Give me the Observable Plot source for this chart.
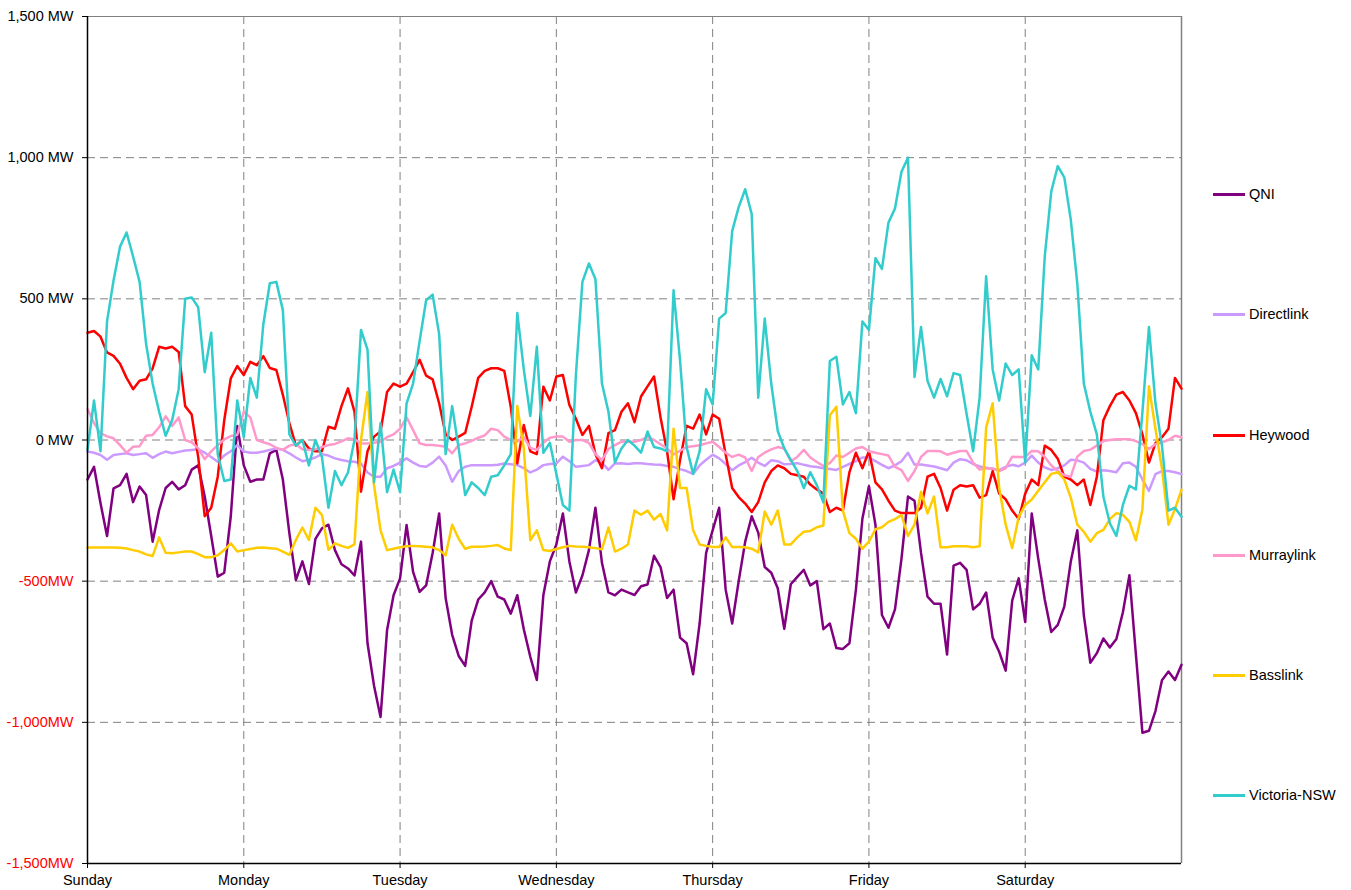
<!DOCTYPE html>
<html>
<head>
<meta charset="utf-8">
<script src="https://cdn.jsdelivr.net/npm/d3@7"></script>
<script src="https://cdn.jsdelivr.net/npm/@observablehq/plot@0.6"></script>
<style>
  html, body { margin: 0; padding: 0; background: #fff; }
  #wrap { position: relative; width: 1351px; height: 890px; font-family: "Liberation Sans", Arial, sans-serif; }
  #wrap svg { display: block; position: absolute; left: 0; top: 0; }
  .leg { position: absolute; left: 1213px; height: 18px; display: flex; align-items: center; font-size: 14.5px; color: #000; white-space: nowrap; }
  .leg .sw { width: 32px; height: 3px; margin-right: 4px; }
</style>
</head>
<body>
<div id="wrap"></div>
<script>
// Hourly time grid (hours since Sunday 00:00)
const hours = d3.range(0, 169);

const qni = [
  -140, -95, -224, -340, -171, -160, -120, -220, -165, -195, -360, -248,
  -170, -148, -175, -160, -105, -90, -200, -340, -484, -470, -271, 50,
  -90, -148, -140, -140, -47, -35, -140, -330, -496, -430, -510, -350,
  -313, -300, -390, -440, -455, -480, -360, -720, -870, -981, -674, -550,
  -490, -301, -467, -538, -515, -400, -260, -560, -690, -765, -800, -640,
  -565, -540, -500, -555, -565, -615, -550, -670, -768, -850, -550, -430,
  -370, -260, -430, -540, -480, -390, -240, -435, -540, -550, -530, -540,
  -549, -518, -512, -410, -450, -560, -530, -700, -720, -830, -650, -400,
  -320, -240, -530, -650, -500, -360, -270, -328, -450, -470, -525, -669,
  -511, -485, -460, -515, -500, -670, -650, -737, -740, -720, -530, -278,
  -164, -300, -620, -665, -600, -420, -200, -215, -400, -555, -580, -580,
  -760, -445, -435, -460, -600, -580, -540, -700, -750, -817, -569, -490,
  -645, -260, -420, -565, -680, -655, -590, -430, -320, -620, -789, -755,
  -703, -735, -705, -610, -479, -760, -1037, -1030, -960, -851, -820, -850,
  -796
];

const directlink = [
  -41, -45, -53, -70, -53, -50, -47, -53, -50, -47, -63, -50,
  -41, -47, -42, -37, -35, -33, -45, -60, -77, -55, -40, -18,
  -41, -45, -45, -41, -35, -30, -35, -47, -62, -75, -70, -62,
  -50, -55, -65, -71, -75, -77, -83, -115, -130, -130, -100, -92,
  -80, -65, -80, -92, -95, -80, -59, -90, -148, -110, -95, -89,
  -89, -89, -89, -88, -83, -86, -89, -100, -115, -105, -89, -85,
  -83, -59, -75, -95, -92, -89, -72, -80, -106, -83, -82, -85,
  -82, -82, -85, -87, -88, -92, -95, -103, -110, -120, -90, -70,
  -52, -65, -85, -107, -90, -78, -63, -80, -92, -72, -75, -86,
  -85, -82, -88, -93, -96, -100, -103, -106, -95, -85, -75, -62,
  -62, -75, -88, -100, -90, -75, -45, -87, -87, -90, -94, -100,
  -107, -80, -68, -72, -85, -94, -98, -102, -107, -95, -88, -93,
  -80, -55, -80, -97, -106, -100, -90, -70, -72, -80, -102, -112,
  -107, -110, -114, -82, -80, -95, -140, -180, -121, -110, -110, -114,
  -121
];

const heywood = [
  380, 386, 366, 310, 298, 270, 220, 180, 210, 215, 254, 330,
  324, 330, 312, 120, 90, -60, -270, -240, -130, 70, 218, 262,
  230, 277, 265, 297, 255, 248, 160, 60, -20, 0, -30, -40,
  -40, 47, 40, 120, 183, 100, -183, -40, 12, 30, 170, 200,
  189, 200, 240, 284, 228, 215, 130, 20, 0, 12, 25, 118,
  220, 245, 254, 254, 245, 118, -83, 53, -40, -50, 189, 140,
  225, 230, 124, 75, 18, 50, -50, -100, 24, 35, 100, 130,
  63, 154, 190, 225, 80, -40, -210, -70, 50, 40, 90, 20,
  90, 75, -51, -170, -202, -225, -255, -220, -150, -110, -90, -100,
  -120, -125, -130, -158, -175, -190, -255, -240, -250, -115, -45, -100,
  -40, -150, -175, -215, -250, -259, -259, -259, -240, -130, -120, -170,
  -250, -176, -160, -165, -160, -204, -195, -110, -190, -210, -250, -280,
  -190, -140, -160, -20, -35, -66, -130, -140, -160, -140, -230, -130,
  70, 120, 161, 170, 140, 95, 20, -80, -11, 10, 40, 220,
  182
];

const murraylink = [
  110, 60, 24, 13, 6, -18, -45, -24, -22, 15, 18, 45,
  84, 50, 80, 0, -8, -30, -68, -40, -18, 2, 14, 18,
  100, 80, 0, -8, -15, -28, -35, -20, -15, -33, -35, -33,
  -25, -18, -14, -5, 6, 2, -12, -12, -10, -6, 10, 20,
  40, 80, 35, -12, -18, -18, -20, -24, -47, -18, -12, -3,
  8, 16, 40, 35, 12, 0, -5, 10, -28, -35, -10, 8,
  12, 12, -6, 0, 0, -10, -50, -71, -32, -18, -6, -6,
  -6, 0, 10, 0, -15, -30, -51, -38, -25, -22, -19, -12,
  -6, -25, -45, -60, -52, -62, -110, -60, -45, -33, -25, -30,
  -75, -60, -35, -62, -78, -92, -82, -55, -60, -45, -30, -25,
  -40, -45, -50, -55, -95, -107, -145, -110, -60, -39, -39, -40,
  -52, -45, -39, -39, -80, -105, -100, -101, -110, -100, -59, -60,
  -60, -39, -40, -60, -90, -110, -125, -130, -59, -39, -34, -20,
  -4, 0, 3, 3, 3, -4, -15, -32, -15, -8, 0, 15,
  10
];

const basslink = [
  -381, -381, -381, -381, -381, -382, -384, -390, -395, -405, -411, -345,
  -399, -401, -398, -395, -395, -404, -415, -415, -408, -390, -366, -395,
  -390, -386, -382, -381, -383, -385, -395, -407, -354, -310, -354, -240,
  -265, -389, -366, -375, -382, -370, 0, 170, -160, -320, -390, -385,
  -380, -376, -375, -376, -378, -380, -390, -408, -300, -350, -385, -378,
  -378, -377, -375, -372, -384, -390, 120, -30, -355, -320, -390, -393,
  -386, -380, -375, -377, -378, -380, -383, -387, -310, -395, -385, -370,
  -250, -265, -250, -282, -262, -320, 40, -170, -170, -320, -370, -375,
  -379, -379, -345, -379, -379, -380, -385, -398, -253, -300, -250, -370,
  -370, -345, -325, -322, -309, -303, 88, 118, -250, -330, -350, -385,
  -360, -316, -309, -290, -280, -266, -340, -300, -183, -260, -200, -380,
  -380, -376, -376, -376, -380, -376, 44, 130, -170, -300, -383, -273,
  -230, -211, -180, -150, -120, -114, -140, -204, -300, -325, -360, -330,
  -318, -280, -259, -265, -290, -355, -245, 190, 40, -101, -300, -245,
  -176
];

const victoriaNsw = [
  -35, 140, -40, 420, 565, 685, 735, 650, 560, 340, 200, 100,
  15, 70, 180, 500, 505, 470, 240, 380, -50, -145, -140, 140,
  10, 220, 150, 410, 555, 560, 460, 20, -20, 0, -90, 0,
  -60, -240, -110, -160, -115, 0, 390, 320, -150, 60, -185, -105,
  -185, 130, 200, 350, 495, 515, 375, -50, 120, -30, -195, -150,
  -170, -195, -130, -125, -90, -50, 450, 250, 85, 330, -45, -10,
  -120, -230, -250, 230, 560, 625, 570, 200, 100, -80, -30, 0,
  -20, -45, 30, -25, -30, -40, 530, 280, -25, -120, -40, 180,
  126, 430, 450, 740, 825, 888, 800, 150, 430, 200, 32, -30,
  -70, -110, -170, -114, -160, -221, 280, 295, 126, 170, 95, 420,
  390, 644, 606, 770, 820, 950, 1000, 223, 400, 209, 150, 216,
  155, 237, 230, 92, -40, 150, 580, 250, 140, 271, 230, 250,
  -80, 300, 250, 650, 880, 970, 930, 780, 554, 200, 100, 20,
  -200, -295, -340, -230, -162, -175, 99, 400, 130, -20, -250, -240,
  -272
];

const seriesNames = ["QNI", "Directlink", "Heywood", "Murraylink", "Basslink", "Victoria-NSW"];
const seriesColors = ["#800080", "#CC99FF", "#FF0000", "#FF99CC", "#FFCC00", "#33CCCC"];
const seriesValues = [qni, directlink, heywood, murraylink, basslink, victoriaNsw];

const dayTicks = [0, 24, 48, 72, 96, 120, 144];
const dayLabels = ["Sunday", "Monday", "Tuesday", "Wednesday", "Thursday", "Friday", "Saturday"];
const yTicks = [-1500, -1000, -500, 0, 500, 1000, 1500];
const yLabels = ["-1,500MW", "-1,000MW", "-500MW", "0 MW", "500 MW", "1,000 MW", "1,500 MW"];

const fmtY = d => yLabels[yTicks.indexOf(d)];
const fmtX = d => dayLabels[dayTicks.indexOf(d)];

const lineMarks = seriesNames.map((name, i) =>
  Plot.line(hours.map((h, j) => ({h, v: seriesValues[i][j]})), {
    x: "h", y: "v", stroke: seriesColors[i], strokeWidth: 2.5, strokeLinejoin: "round"
  })
);

const plot = Plot.plot({
  width: 1351,
  height: 890,
  marginLeft: 87,
  marginRight: 170,
  marginTop: 16,
  marginBottom: 27,
  style: { fontFamily: "'Liberation Sans', Arial, sans-serif", fontSize: "14.5px", background: "#fff", color: "#000" },
  x: { domain: [0, 168], label: null },
  y: { domain: [-1500, 1500], label: null },
  marks: [
    Plot.ruleY(yTicks.slice(1, -1), { stroke: "#808080", strokeWidth: 1, strokeDasharray: "8,5" }),
    Plot.ruleX(dayTicks.slice(1), { stroke: "#808080", strokeWidth: 1, strokeDasharray: "8,5" }),
    Plot.ruleY([1500], { stroke: "#808080", strokeWidth: 1 }),
    Plot.ruleX([168], { stroke: "#808080", strokeWidth: 1.5 }),
    ...lineMarks,
    Plot.ruleX([0], { stroke: "#000", strokeWidth: 1.5 }),
    Plot.ruleY([-1500], { stroke: "#000", strokeWidth: 1.5 }),
    Plot.axisY(yTicks.filter(v => v >= 0), { tickFormat: fmtY, tickSize: 5, tickPadding: 9, fill: "#000", stroke: "#000", label: null }),
    Plot.axisY(yTicks.filter(v => v < 0), { tickFormat: fmtY, tickSize: 5, tickPadding: 9, fill: "#FF0000", stroke: "#000", label: null }),
    Plot.axisX(dayTicks, { tickFormat: fmtX, tickSize: 5, tickPadding: 6, fill: "#000", stroke: "#000", label: null })
  ]
});

const wrap = document.getElementById("wrap");
wrap.appendChild(plot);

// Legend on the right
const legendY = [194, 314, 435, 555, 675, 795];
seriesNames.forEach((name, i) => {
  const row = document.createElement("div");
  row.className = "leg";
  row.style.top = (legendY[i] - 9) + "px";
  const sw = document.createElement("span");
  sw.className = "sw";
  sw.style.background = seriesColors[i];
  const tx = document.createElement("span");
  tx.textContent = name;
  row.appendChild(sw);
  row.appendChild(tx);
  wrap.appendChild(row);
});
</script>
</body>
</html>
